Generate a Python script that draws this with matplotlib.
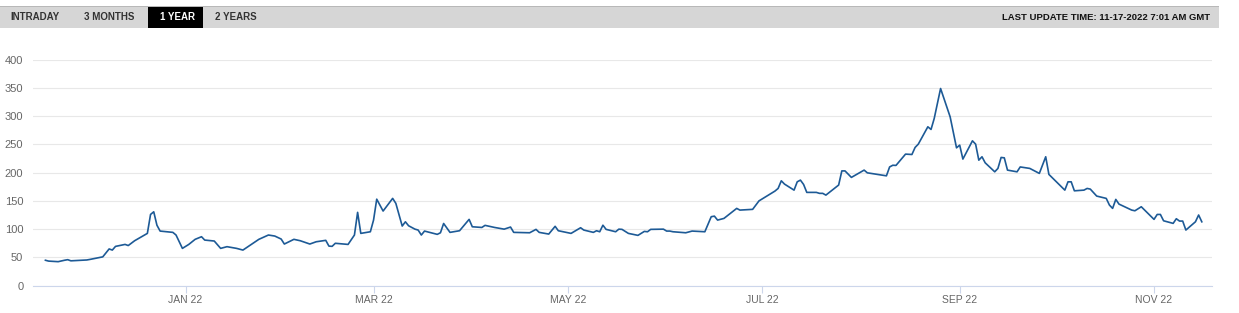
import numpy as np
import pandas as pd
import matplotlib
matplotlib.use("Agg")
import matplotlib.pyplot as plt
import matplotlib.dates as mdates
from matplotlib.patches import Rectangle

plt.rcParams['font.family'] = ['Liberation Sans', 'DejaVu Sans']

#--- data ---#
dates = [
    "2021-11-18", "2021-11-19", "2021-11-22", "2021-11-24", "2021-11-25", "2021-11-26",
    "2021-11-29", "2021-12-01", "2021-12-02", "2021-12-06", "2021-12-08", "2021-12-09",
    "2021-12-10", "2021-12-13", "2021-12-14", "2021-12-16", "2021-12-20", "2021-12-21",
    "2021-12-22", "2021-12-23", "2021-12-24", "2021-12-28", "2021-12-29", "2021-12-31",
    "2022-01-02", "2022-01-04", "2022-01-06", "2022-01-07", "2022-01-10", "2022-01-12",
    "2022-01-14", "2022-01-17", "2022-01-19", "2022-01-24", "2022-01-27", "2022-01-29",
    "2022-01-31", "2022-02-01", "2022-02-04", "2022-02-06", "2022-02-09", "2022-02-11",
    "2022-02-14", "2022-02-15", "2022-02-16", "2022-02-17", "2022-02-21", "2022-02-23",
    "2022-02-24", "2022-02-25", "2022-02-28", "2022-03-01", "2022-03-02", "2022-03-04",
    "2022-03-07", "2022-03-08", "2022-03-10", "2022-03-11", "2022-03-12", "2022-03-14",
    "2022-03-15", "2022-03-16", "2022-03-17", "2022-03-21", "2022-03-22", "2022-03-23",
    "2022-03-25", "2022-03-28", "2022-03-31", "2022-04-01", "2022-04-04", "2022-04-05",
    "2022-04-08", "2022-04-11", "2022-04-13", "2022-04-14", "2022-04-19", "2022-04-21",
    "2022-04-22", "2022-04-25", "2022-04-27", "2022-04-28", "2022-05-02", "2022-05-05",
    "2022-05-06", "2022-05-09", "2022-05-10", "2022-05-11", "2022-05-12", "2022-05-13",
    "2022-05-16", "2022-05-17", "2022-05-18", "2022-05-20", "2022-05-23", "2022-05-25",
    "2022-05-26", "2022-05-27", "2022-05-31", "2022-06-01", "2022-06-02", "2022-06-03",
    "2022-06-07", "2022-06-09", "2022-06-13", "2022-06-15", "2022-06-16", "2022-06-17",
    "2022-06-19", "2022-06-23", "2022-06-24", "2022-06-28", "2022-06-30", "2022-07-05",
    "2022-07-06", "2022-07-07", "2022-07-08", "2022-07-11", "2022-07-12", "2022-07-13",
    "2022-07-14", "2022-07-15", "2022-07-18", "2022-07-19", "2022-07-20", "2022-07-21",
    "2022-07-25", "2022-07-26", "2022-07-27", "2022-07-29", "2022-08-02", "2022-08-03",
    "2022-08-09", "2022-08-10", "2022-08-11", "2022-08-12", "2022-08-15", "2022-08-17",
    "2022-08-18", "2022-08-19", "2022-08-22", "2022-08-23", "2022-08-24", "2022-08-26",
    "2022-08-29", "2022-08-31", "2022-09-01", "2022-09-02", "2022-09-05", "2022-09-06",
    "2022-09-07", "2022-09-08", "2022-09-09", "2022-09-12", "2022-09-13", "2022-09-14",
    "2022-09-15", "2022-09-16", "2022-09-19", "2022-09-20", "2022-09-23", "2022-09-26",
    "2022-09-28", "2022-09-29", "2022-10-04", "2022-10-05", "2022-10-06", "2022-10-07",
    "2022-10-10", "2022-10-11", "2022-10-12", "2022-10-14", "2022-10-17", "2022-10-18",
    "2022-10-19", "2022-10-20", "2022-10-21", "2022-10-25", "2022-10-26", "2022-10-28",
    "2022-11-01", "2022-11-02", "2022-11-03", "2022-11-04", "2022-11-07", "2022-11-08",
    "2022-11-09", "2022-11-10", "2022-11-11", "2022-11-14", "2022-11-15", "2022-11-16",
]
values = [
    45, 43.5, 42.5, 45, 46, 44,
    45, 45.5, 46.5, 51, 65, 63,
    69.5, 73, 71, 79.5, 92.5, 126,
    130.7, 107, 96.6, 94.3, 89.6, 66,
    73, 82, 86.6, 80.7, 79, 66,
    69, 66, 63, 82, 89.6, 87.8,
    82.5, 73.7, 82, 79.5, 73.7, 77.7,
    80.2, 70, 69.6, 75, 73, 89.6,
    129.7, 92.5, 95.4, 116, 153, 132,
    154.4, 145.6, 105.5, 113, 106, 100,
    98.4, 89.6, 96.6, 90.8, 93.6, 110,
    94.3, 97.2, 117.3, 104.2, 103, 106.7,
    103, 100, 103.7, 94.3, 93.6, 99.6,
    94.3, 91.3, 105, 97.2, 92.5, 102.5,
    98.4, 94.3, 97.2, 95.4, 107, 99.6,
    95.4, 100, 99.6, 92.5, 89, 96,
    95.4, 99.6, 100, 96.6, 96.6, 95.4,
    93.6, 96.6, 95.4, 122, 123, 116,
    119, 136.7, 133.7, 135, 150, 167.3,
    172, 185.5, 179.7, 169, 183.7, 186.7,
    179, 165, 165, 163.3, 163.3, 160.2,
    178, 203, 203, 191.5, 204.4, 199.6,
    194.3, 210, 213, 212.7, 232.7, 232,
    244.5, 250.3, 281, 276.3, 295.7, 348.7,
    298.6, 243.8, 248.6, 223.9, 256.2, 250.3,
    222, 228, 217.3, 201.4, 207.4, 226.8,
    226.1, 204.4, 201.4, 210, 207.4, 198.6,
    228, 196.8, 169, 183.7, 183.7, 167.8,
    169, 172, 170.8, 158.5, 154.4, 142.6,
    136.7, 152.6, 144.3, 133.7, 132.5, 139.6,
    117.3, 126, 126, 114.8, 110.2, 118.4,
    114.3, 114.3, 98.4, 113, 125, 113,
]
y_ticks = [0, 50, 100, 150, 200, 250, 300, 350, 400]
x_tick_dates = ["2022-01-01", "2022-03-01", "2022-05-01", "2022-07-01", "2022-09-01", "2022-11-01"]
tabs = ["INTRADAY", "3 MONTHS", "1 YEAR", "2 YEARS"]
update_text = "LAST UPDATE TIME: 11-17-2022 7:01 AM GMT"

df = pd.DataFrame({"date": pd.to_datetime(dates), "value": values})

W, H = 1239, 313
fig = plt.figure(figsize=(W / 100, H / 100), dpi=100)
fig.patch.set_facecolor("white")

def px(x, y):
    # pixel (from top-left) to figure fraction
    return x / W, 1 - y / H

#--- header bar ---#
x0, y0 = px(0, 28)
fig.patches.append(Rectangle((x0, y0), 1219 / W, 22 / H, transform=fig.transFigure,
                             facecolor="#d6d6d6", edgecolor="none", zorder=0))
x0, y0 = px(0, 7)
fig.patches.append(Rectangle((x0, y0), 1219 / W, 1.2 / H, transform=fig.transFigure,
                             facecolor="#b8b8b8", edgecolor="none", zorder=1))
x0, y0 = px(148, 28)
fig.patches.append(Rectangle((x0, y0), 55 / W, 21 / H, transform=fig.transFigure,
                             facecolor="black", edgecolor="none", zorder=1))

tab_x = [10, 84, 160, 215]
for t, tx in zip(tabs, tab_x):
    c = "white" if t == "1 YEAR" else "#333333"
    fx, fy = px(tx, 17.5)
    fig.text(fx, fy, t, fontsize=7, fontweight="bold", color=c, ha="left", va="center")
fx, fy = px(1210, 17.5)
fig.text(fx, fy, update_text, fontsize=6.8, fontweight="bold", color="#111111",
         ha="right", va="center")

#--- chart ---#
ax = fig.add_axes([33 / W, 1 - 285.7 / H, (1212 - 33) / W, (285.7 - 59.5) / H])
ax.plot(df["date"], df["value"], color="#1d5a96", linewidth=1.2, zorder=3)

jan1 = mdates.date2num(pd.Timestamp("2022-01-01"))
ax.set_xlim(jan1 - 47.9, jan1 + 322.2)
ax.set_ylim(0, 400)

ax.set_yticks(y_ticks)
ax.set_yticklabels([str(v) for v in y_ticks])
ax.grid(axis="y", color="#e8e8e8", linewidth=0.8)
ax.set_axisbelow(True)

xt = pd.to_datetime(x_tick_dates)
ax.set_xticks(xt)
ax.set_xticklabels([d.strftime("%b %y").upper() for d in xt])

for s in ["top", "right", "left"]:
    ax.spines[s].set_visible(False)
ax.spines["bottom"].set_color("#ccd6eb")
ax.spines["bottom"].set_linewidth(0.8)

ax.tick_params(axis="y", length=0, pad=7, labelsize=8, labelcolor="#666666")
ax.tick_params(axis="x", length=5, width=0.8, color="#ccd6eb", pad=2,
               labelsize=7.5, labelcolor="#666666")
for lab in ax.get_yticklabels():
    lab.set_horizontalalignment("right")

fig.savefig("out.png", dpi=100)
